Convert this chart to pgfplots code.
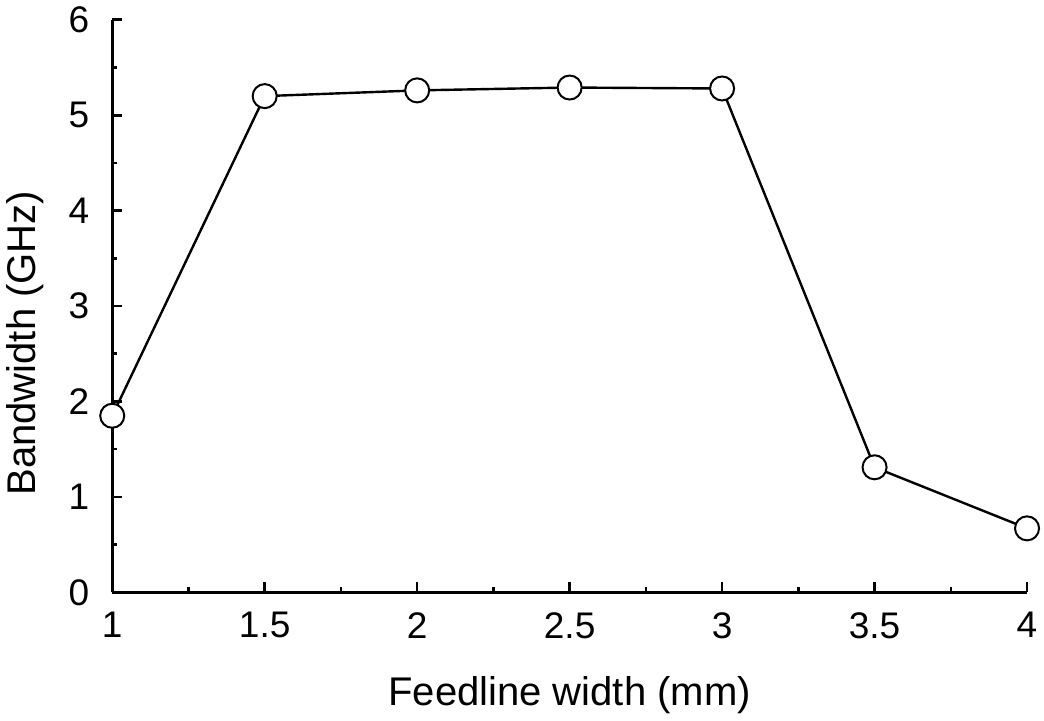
\documentclass[border=0pt]{standalone}
\usepackage{pgfplots}
\pgfplotsset{compat=1.18}
\usepackage{fontspec}
\setmainfont{Liberation Sans}
\begin{document}
\begin{tikzpicture}
\begin{axis}[
    scale only axis,
    width=457pt, height=286pt,
    xmin=1, xmax=4, ymin=0, ymax=6,
    axis x line*=bottom, axis y line*=left,
    axis line style={line width=1.5pt, -},
    xtick={1,1.5,2,2.5,3,3.5,4},
    ytick={0,1,2,3,4,5,6},
    minor tick num=1,
    tick align=inside,
    major tick length=5pt, minor tick length=2.5pt,
    tick style={line width=1.3pt, black},
    xticklabel style={yshift=-6.5pt},
    yticklabel style={xshift=-8pt},
    /pgf/number format/assume math mode=true,
    ticklabel style={font=\fontsize{18.5}{22}\selectfont},
    label style={font=\fontsize{20}{24}\selectfont},
    xlabel={Feedline width (mm)},
    ylabel={Bandwidth (GHz)},
    xlabel style={at={(axis description cs:0.5,-0.18)}, anchor=center},
    ylabel style={at={(axis description cs:-0.095,0.435)}, anchor=center},
    clip=false,
]
\addplot[black, line width=1.2pt, mark=*, mark size=6pt,
    mark options={fill=white, draw=black, line width=1pt}]
    coordinates {
    (1,1.85) (1.5,5.20) (2,5.26) (2.5,5.29) (3,5.28) (3.5,1.31) (4,0.67)
    };
\end{axis}
\end{tikzpicture}
\end{document}
